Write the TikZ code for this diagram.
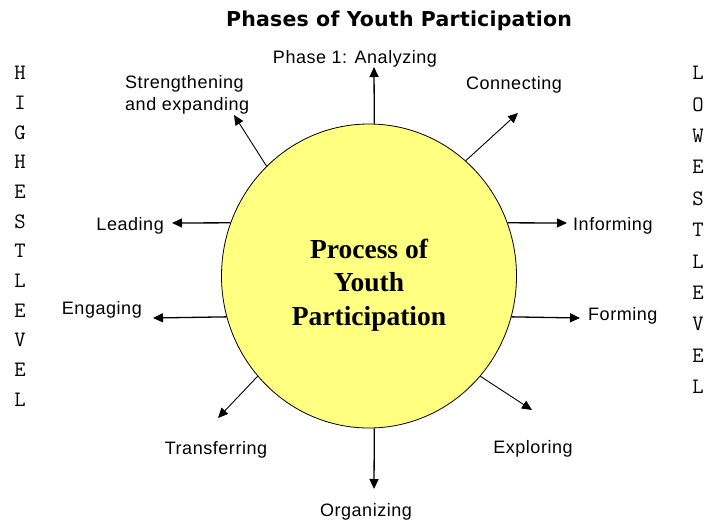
\documentclass[tikz,border=0pt]{standalone}
\usepackage{fontspec}
\usepackage{tikz}
\usetikzlibrary{shapes.geometric,arrows.meta}
\setmainfont{Liberation Serif}
\newfontfamily\labfont{Liberation Sans}[LetterSpace=3]
\newfontfamily\headfont{DejaVu Sans}[LetterSpace=1]
\definecolor{pale}{RGB}{255,255,128}
\tikzset{
  phase/.style={font=\labfont\fontsize{18}{22}\selectfont,inner sep=0pt,anchor=base,align=left},
  arr/.style={-{Triangle[length=10pt,width=9pt]},line width=1.3pt},
  slant/.style={-{Triangle[length=10pt,width=9pt]},line width=0.9pt},
  side/.style={font=\ttfamily\fontsize{22}{22}\selectfont,inner sep=0pt}
}
\begin{document}
\begin{tikzpicture}[x=1pt,y=-1pt,
 hub/.style={draw,ellipse,fill=pale,line width=0.8pt,minimum width=295pt,minimum height=304pt,inner sep=0pt}]
\useasboundingbox (0,0) rectangle (723,520);
\node[font=\headfont\bfseries\fontsize{20.5}{22}\selectfont,inner sep=0pt,anchor=base] (title) at (399,26) {Phases of Youth Participation};
\node[hub] (circ) at (369,276) {};
\node[font=\bfseries\fontsize{27.5}{33.5}\selectfont,align=center,inner sep=0pt] (proc) at (369,285) {Process of\\Youth\\Participation};
% phases round the circle
\node[phase] (ana) at (355,63) {Phase 1: Analyzing};
\node[phase] (con) at (514,89) {Connecting};
\node[phase,anchor=base west] (inf) at (573,230) {Informing};
\node[phase,anchor=base west] (frm) at (588,320) {Forming};
\node[phase] (exp) at (533,453) {Exploring};
\node[phase] (org) at (366,516) {Organizing};
\node[phase] (tra) at (216,454) {Transferring};
\node[phase,anchor=base east] (eng) at (142,314) {Engaging};
\node[phase,anchor=base east] (lea) at (164,230) {Leading};
\node[phase,anchor=north west] (str) at (125,75) {Strengthening\\and expanding};
\coordinate (tA) at (374,67);
\coordinate (tC) at (518,113);
\coordinate (tI) at (567,223);
\coordinate (tF) at (580,318);
\coordinate (tE) at (532,410);
\coordinate (tO) at (374,489);
\coordinate (tT) at (218,418);
\coordinate (tG) at (153,318);
\coordinate (tL) at (172,223);
\coordinate (tS) at (234,115);
\draw[arr] (circ.88) -- (tA);
\draw[slant] (circ.50) -- (tC);
\draw[arr] (circ.21) -- (tI);
\draw[arr] (circ.-16.5) -- (tF);
\draw[slant] (circ.-42) -- (tE);
\draw[arr] (circ.-88) -- (tO);
\draw[slant] (circ.222.6) -- (tT);
\draw[arr] (circ.196.5) -- (tG);
\draw[arr] (circ.159) -- (tL);
\draw[slant] (circ.133) -- (tS);
% level columns
\foreach \ch [count=\i] in {H,I,G,H,E,S,T,L,E,V,E,L}
  \node[side] (hi\i) at (20,{73+(\i-1)*29.7}) {\ch};
\foreach \ch [count=\i] in {L,O,W,E,S,T,L,E,V,E,L}
  \node[side] (lo\i) at (698,{73+(\i-1)*31.4}) {\ch};
\end{tikzpicture}
\end{document}
